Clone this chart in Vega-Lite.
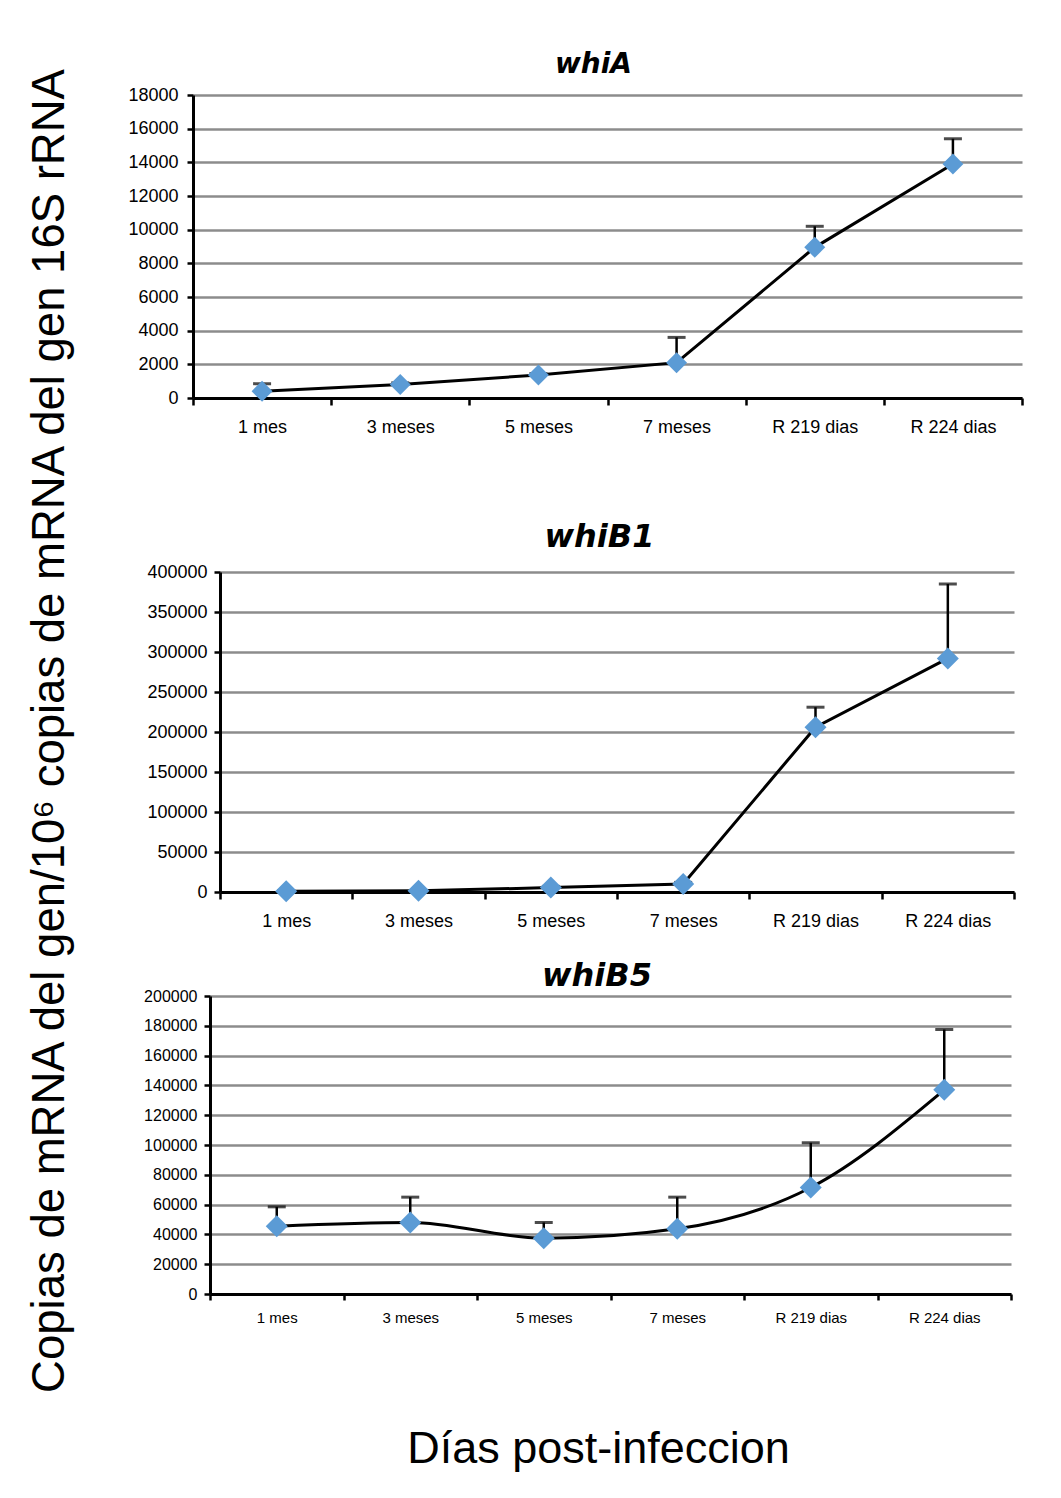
{
  "$schema": "https://vega.github.io/schema/vega-lite/v6.json",
  "background": "white",
  "padding": {"left": 28, "top": 51, "right": 5, "bottom": 5},
  "title": {
    "text": "Copias de mRNA del gen/10⁶ copias de mRNA del gen 16S rRNA",
    "orient": "left",
    "anchor": "middle",
    "font": "Liberation Sans",
    "fontSize": 45.5,
    "fontWeight": "normal",
    "color": "black",
    "offset": 54,
    "dx": 30
  },
  "datasets": {
    "whiA": [
      {"cat": "1 mes", "value": 400, "upper": 850},
      {"cat": "3 meses", "value": 800, "upper": 900},
      {"cat": "5 meses", "value": 1370, "upper": 1450},
      {"cat": "7 meses", "value": 2100, "upper": 3600},
      {"cat": "R 219 dias", "value": 8950, "upper": 10200},
      {"cat": "R 224 dias", "value": 13900, "upper": 15400}
    ],
    "whiB1": [
      {"cat": "1 mes", "value": 1000, "upper": 1500},
      {"cat": "3 meses", "value": 1500, "upper": 2000},
      {"cat": "5 meses", "value": 5500, "upper": 7000},
      {"cat": "7 meses", "value": 10000, "upper": 12000},
      {"cat": "R 219 dias", "value": 206000, "upper": 231000},
      {"cat": "R 224 dias", "value": 292000, "upper": 385000}
    ],
    "whiB5": [
      {"cat": "1 mes", "value": 45500, "upper": 58500},
      {"cat": "3 meses", "value": 48000, "upper": 65000},
      {"cat": "5 meses", "value": 37500, "upper": 48000},
      {"cat": "7 meses", "value": 43800, "upper": 65000},
      {"cat": "R 219 dias", "value": 71500, "upper": 101500},
      {"cat": "R 224 dias", "value": 137000, "upper": 177500}
    ]
  },
  "spacing": 0,
  "vconcat": [
    {
      "width": 829,
      "height": 303,
      "title": {"text": "whiA", "font": "DejaVu Sans", "fontSize": 28, "fontStyle": "italic", "fontWeight": "bold", "color": "black", "offset": 7, "dx": -14},
      "data": {"name": "whiA"},
      "encoding": {
        "x": {
          "field": "cat", "type": "nominal",
          "sort": ["1 mes", "3 meses", "5 meses", "7 meses", "R 219 dias", "R 224 dias"],
          "scale": {"paddingInner": 0, "paddingOuter": 0},
          "axis": {"title": null, "labelAngle": 0, "labelFont": "Liberation Sans", "labelFontSize": 18, "labelColor": "black", "labelPadding": 13, "tickBand": "extent", "tickSize": 7, "tickWidth": 2.5, "tickColor": "black", "domainWidth": 3, "domainColor": "black", "grid": false, "minExtent": 123, "maxExtent": 123}
        },
        "y": {
          "field": "value", "type": "quantitative",
          "scale": {"domain": [0, 18000], "nice": false},
          "axis": {"title": null, "values": [0, 2000, 4000, 6000, 8000, 10000, 12000, 14000, 16000, 18000], "format": "d", "labelFont": "Liberation Sans", "labelFontSize": 18, "labelColor": "black", "labelPadding": 9, "tickSize": 6, "tickWidth": 2.5, "tickColor": "black", "domainWidth": 3, "domainColor": "black", "grid": true, "gridColor": "#8c8c8c", "gridWidth": 2.5, "minExtent": 65, "maxExtent": 65}
        }
      },
      "layer": [
        {"mark": {"type": "rule", "color": "black", "strokeWidth": 2.5}, "encoding": {"y2": {"field": "upper"}}},
        {"mark": {"type": "tick", "color": "black", "thickness": 3, "size": 18}, "encoding": {"y": {"field": "upper", "type": "quantitative", "scale": {"domain": [0, 18000], "nice": false}, "axis": {"title": null, "values": [0, 2000, 4000, 6000, 8000, 10000, 12000, 14000, 16000, 18000], "format": "d", "labelFont": "Liberation Sans", "labelFontSize": 18, "labelColor": "black", "labelPadding": 9, "tickSize": 6, "tickWidth": 2.5, "tickColor": "black", "domainWidth": 3, "domainColor": "black", "grid": true, "gridColor": "#8c8c8c", "gridWidth": 2.5, "minExtent": 65, "maxExtent": 65}}}},
        {"mark": {"type": "line", "color": "black", "strokeWidth": 3}, "encoding": {}},
        {"mark": {"type": "point", "shape": "diamond", "filled": true, "color": "#5b9bd5", "opacity": 1, "size": 440}, "encoding": {}}
      ]
    },
    {
      "width": 821,
      "height": 320,
      "title": {"text": "whiB1", "font": "DejaVu Sans", "fontSize": 32, "fontStyle": "italic", "fontWeight": "bold", "color": "black", "offset": 9, "dx": -4},
      "data": {"name": "whiB1"},
      "encoding": {
        "x": {
          "field": "cat", "type": "nominal",
          "sort": ["1 mes", "3 meses", "5 meses", "7 meses", "R 219 dias", "R 224 dias"],
          "scale": {"paddingInner": 0, "paddingOuter": 0, "range": [27, 821]},
          "axis": {"title": null, "labelAngle": 0, "labelFont": "Liberation Sans", "labelFontSize": 18, "labelColor": "black", "labelPadding": 13, "tickBand": "extent", "tickSize": 7, "tickWidth": 2.5, "tickColor": "black", "domainWidth": 3, "domainColor": "black", "grid": false, "minExtent": 68, "maxExtent": 68}
        },
        "y": {
          "field": "value", "type": "quantitative",
          "scale": {"domain": [0, 400000], "nice": false},
          "axis": {"title": null, "offset": -27, "values": [0, 50000, 100000, 150000, 200000, 250000, 300000, 350000, 400000], "format": "d", "labelFont": "Liberation Sans", "labelFontSize": 18, "labelColor": "black", "labelPadding": 7, "tickSize": 6, "tickWidth": 2.5, "tickColor": "black", "domainWidth": 3, "domainColor": "black", "grid": true, "gridColor": "#8c8c8c", "gridWidth": 2.5, "minExtent": 65, "maxExtent": 65}
        }
      },
      "layer": [
        {"mark": {"type": "rule", "color": "black", "strokeWidth": 2.5}, "encoding": {"y2": {"field": "upper"}}},
        {"mark": {"type": "tick", "color": "black", "thickness": 3, "size": 18}, "encoding": {"y": {"field": "upper", "type": "quantitative", "scale": {"domain": [0, 400000], "nice": false}, "axis": {"title": null, "offset": -27, "values": [0, 50000, 100000, 150000, 200000, 250000, 300000, 350000, 400000], "format": "d", "labelFont": "Liberation Sans", "labelFontSize": 18, "labelColor": "black", "labelPadding": 7, "tickSize": 6, "tickWidth": 2.5, "tickColor": "black", "domainWidth": 3, "domainColor": "black", "grid": true, "gridColor": "#8c8c8c", "gridWidth": 2.5, "minExtent": 65, "maxExtent": 65}}}},
        {"mark": {"type": "line", "color": "black", "strokeWidth": 3}, "encoding": {}},
        {"mark": {"type": "point", "shape": "diamond", "filled": true, "color": "#5b9bd5", "opacity": 1, "size": 484}, "encoding": {}}
      ]
    },
    {
      "width": 818,
      "height": 298,
      "title": {"text": "whiB5", "font": "DejaVu Sans", "fontSize": 32, "fontStyle": "italic", "fontWeight": "bold", "color": "black", "offset": -5, "dx": -5},
      "data": {"name": "whiB5"},
      "encoding": {
        "x": {
          "field": "cat", "type": "nominal",
          "sort": ["1 mes", "3 meses", "5 meses", "7 meses", "R 219 dias", "R 224 dias"],
          "scale": {"paddingInner": 0, "paddingOuter": 0, "range": [17, 818]},
          "axis": {"title": "Días post-infeccion", "titleFont": "Liberation Sans", "titleFontSize": 45, "titleFontWeight": "normal", "titleColor": "black", "titlePadding": 101, "titleX": 405, "labelAngle": 0, "labelFont": "Liberation Sans", "labelFontSize": 15, "labelColor": "black", "labelPadding": 10, "tickBand": "extent", "tickSize": 6, "tickWidth": 2.5, "tickColor": "black", "domainWidth": 3, "domainColor": "black", "grid": false}
        },
        "y": {
          "field": "value", "type": "quantitative",
          "scale": {"domain": [0, 200000], "nice": false},
          "axis": {"title": null, "offset": -17, "values": [0, 20000, 40000, 60000, 80000, 100000, 120000, 140000, 160000, 180000, 200000], "format": "d", "labelFont": "Liberation Sans", "labelFontSize": 16, "labelColor": "black", "labelPadding": 7, "tickSize": 6, "tickWidth": 2.5, "tickColor": "black", "domainWidth": 3, "domainColor": "black", "grid": true, "gridColor": "#8c8c8c", "gridWidth": 2.5, "minExtent": 65, "maxExtent": 65}
        }
      },
      "layer": [
        {"mark": {"type": "rule", "color": "black", "strokeWidth": 2.5}, "encoding": {"y2": {"field": "upper"}}},
        {"mark": {"type": "tick", "color": "black", "thickness": 3, "size": 18}, "encoding": {"y": {"field": "upper", "type": "quantitative", "scale": {"domain": [0, 200000], "nice": false}, "axis": {"title": null, "offset": -17, "values": [0, 20000, 40000, 60000, 80000, 100000, 120000, 140000, 160000, 180000, 200000], "format": "d", "labelFont": "Liberation Sans", "labelFontSize": 16, "labelColor": "black", "labelPadding": 7, "tickSize": 6, "tickWidth": 2.5, "tickColor": "black", "domainWidth": 3, "domainColor": "black", "grid": true, "gridColor": "#8c8c8c", "gridWidth": 2.5, "minExtent": 65, "maxExtent": 65}}}},
        {"mark": {"type": "line", "color": "black", "strokeWidth": 3, "interpolate": "monotone"}, "encoding": {}},
        {"mark": {"type": "point", "shape": "diamond", "filled": true, "color": "#5b9bd5", "opacity": 1, "size": 484}, "encoding": {}}
      ]
    }
  ],
  "config": {
    "view": {"stroke": null}
  }
}
